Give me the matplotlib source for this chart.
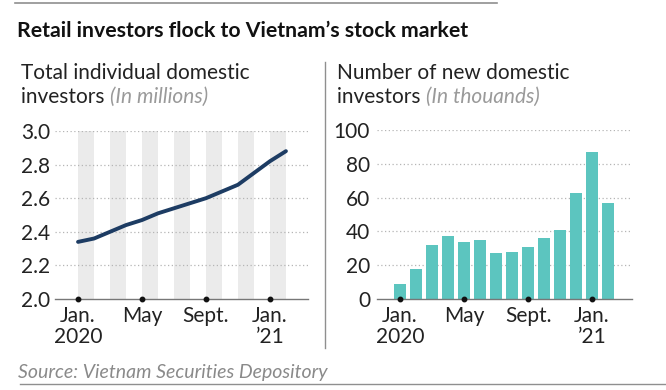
import numpy as np
import matplotlib.pyplot as plt

plt.rcParams['font.family'] = ['Lato', 'DejaVu Sans']

months = np.arange(14)  # Jan 2020 .. Feb 2021
tick_pos = [0, 4, 8, 12]
tick_labels = ['Jan.\n2020', 'May', 'Sept.', 'Jan.\n\u201921']

total_investors = [2.34, 2.36, 2.40, 2.44, 2.47, 2.51, 2.54, 2.57,
                   2.60, 2.64, 2.68, 2.75, 2.82, 2.88]
new_investors = [9, 18, 32, 37, 34, 35, 27, 28, 31, 36, 41, 63, 87, 57]

line_col = '#1d3c63'
bar_col = '#5cc5bf'
grey = '#8a8a8a'
fs = 15

fig = plt.figure(figsize=(6.66, 3.90), dpi=100)

W, H = 666, 390
def box(x0, x1, y_top, y_bot):
    return [x0 / W, 1 - y_bot / H, (x1 - x0) / W, (y_bot - y_top) / H]

ax1 = fig.add_axes(box(55, 308, 131, 299))
ax2 = fig.add_axes(box(377, 632, 130, 299))

# left: line over alternate month stripes
for m in range(0, 14, 2):
    ax1.axvspan(m, m + 1, color='#ebebeb', lw=0, zorder=0)
ax1.plot(months, total_investors, color=line_col, lw=2.8, zorder=3,
         solid_capstyle='round')
ax1.set_ylim(2.0, 3.0)
ax1.set_xlim(-1.44, 14.38)
ax1.set_yticks([2.0, 2.2, 2.4, 2.6, 2.8, 3.0])
ax1.set_yticklabels(['2.0', '2.2', '2.4', '2.6', '2.8', '3.0'])

# right: bars
ax2.bar(months, new_investors, width=0.75, color=bar_col, zorder=2)
ax2.set_ylim(0, 100)
ax2.set_xlim(-1.44, 14.5)
ax2.set_yticks([0, 20, 40, 60, 80, 100])

for ax, ypad in ((ax1, 3.5), (ax2, 5)):
    for s in ('top', 'right', 'left'):
        ax.spines[s].set_visible(False)
    ax.spines['bottom'].set_color('#777777')
    ax.spines['bottom'].set_linewidth(1.0)
    ax.spines['bottom'].set_zorder(4)
    ax.set_xticks(tick_pos)
    ax.set_xticklabels(tick_labels, fontsize=fs, color='#222222',
                       linespacing=1.05)
    ax.tick_params(axis='x', length=0, pad=5)
    ax.tick_params(axis='y', length=0, pad=ypad, labelsize=fs,
                   labelcolor='#222222')
    lo, hi = ax.get_ylim()
    for yv in ax.get_yticks()[1:]:
        ax.axhline(yv, color='#b5b5b5', lw=0.9, ls=(0, (1, 2)), zorder=1)
    ax.plot(tick_pos, [lo] * 4, 'o', ms=3.2, color='#111111',
            clip_on=False, zorder=5)
    ax.set_facecolor('none')

# headings
fig.text(17 / W, 1 - 37 / H, 'Retail investors flock to Vietnam\u2019s stock market',
         fontsize=15.3, fontweight='bold', color='#111111', va='baseline')

def subtitle(x, line1, word, unit):
    fig.text(x / W, 1 - 79 / H, line1, fontsize=fs, color='#222222',
             va='baseline')
    t = fig.text(x / W, 1 - 103 / H, word + ' ', fontsize=fs,
                 color='#222222', va='baseline')
    fig.add_artist(plt.Annotation(unit, xy=(1, 0), xycoords=t,
                                  va='bottom', fontsize=fs,
                                  color='#9a9a9a', style='italic'))

subtitle(21, 'Total individual domestic', 'investors', '(In millions)')
subtitle(337, 'Number of new domestic', 'investors', '(In thouands)')

fig.text(18 / W, 1 - 378 / H, 'Source: Vietnam Securities Depository',
         fontsize=14, color=grey, style='italic', va='baseline')

# rules
fig.add_artist(plt.Line2D([15 / W, 497 / W], [1 - 3 / H, 1 - 3 / H],
                          color='#8f8f8f', lw=1.2))
fig.add_artist(plt.Line2D([20 / W, 666 / W], [1 - 384 / H, 1 - 384 / H],
                          color='#8f8f8f', lw=1.0))
fig.add_artist(plt.Line2D([325 / W, 325 / W], [1 - 62 / H, 1 - 348 / H],
                          color='#8f8f8f', lw=1.0))

fig.savefig('out.png', dpi=100)
